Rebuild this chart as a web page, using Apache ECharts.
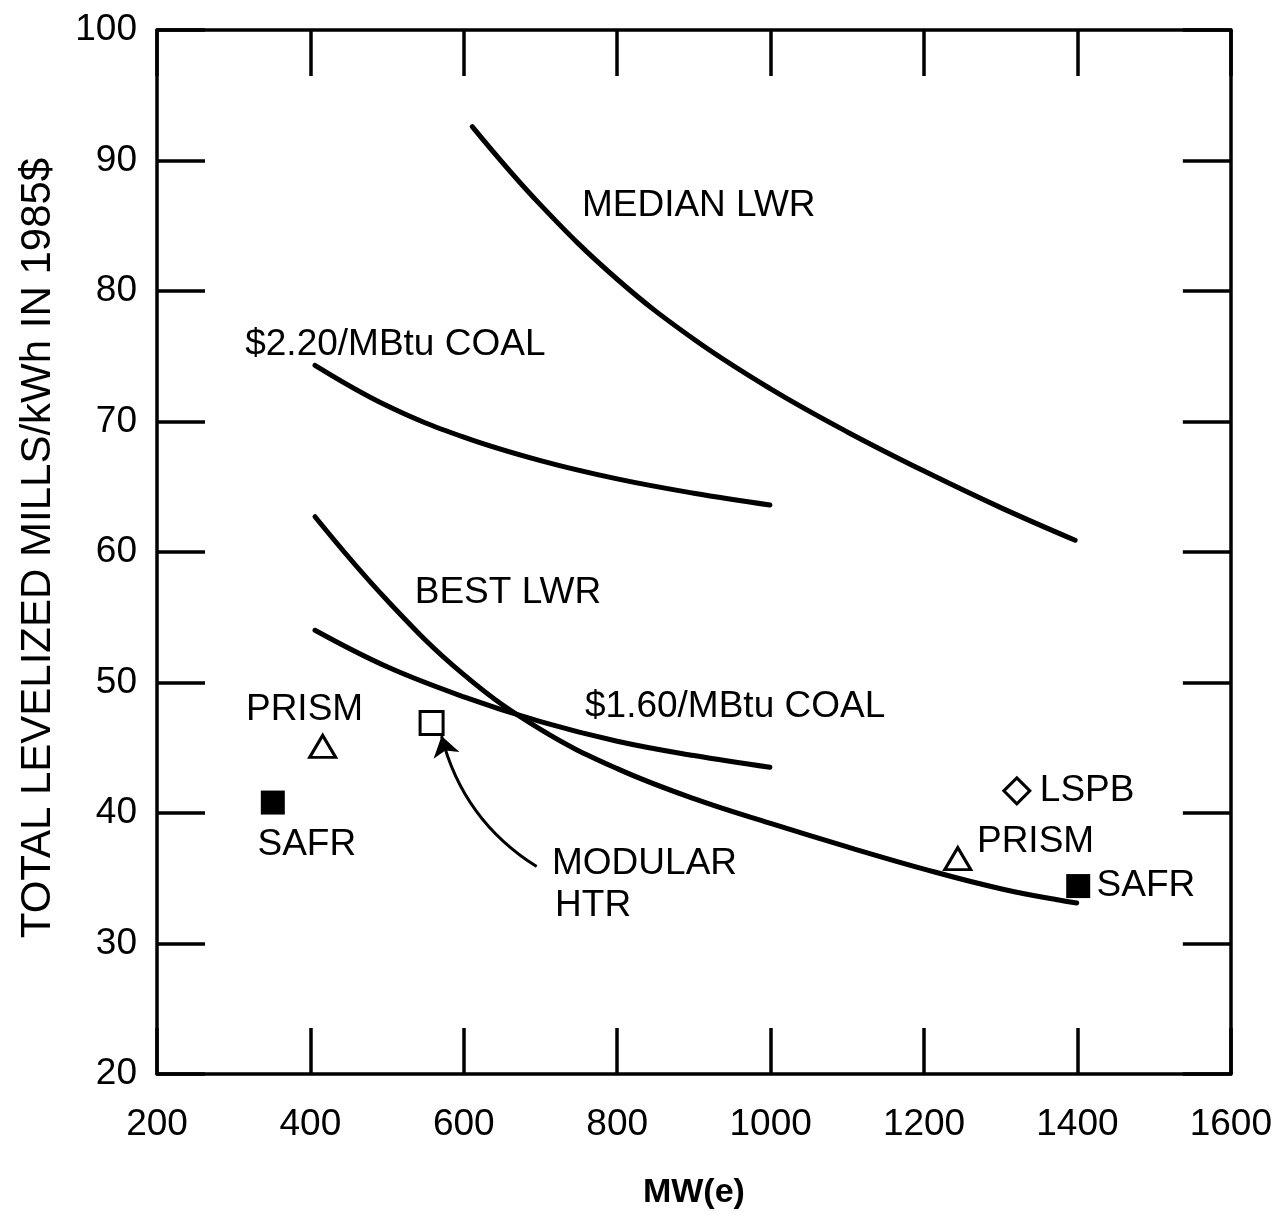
<!DOCTYPE html>
<html>
<head>
<meta charset="utf-8">
<title>Levelized cost vs plant size</title>
<script src="https://cdn.jsdelivr.net/npm/echarts@6/dist/echarts.min.js"></script>
<style>
  html, body { margin: 0; padding: 0; background: #fff; }
  #main { width: 1275px; height: 1215px; }
</style>
</head>
<body>
<div id="main"></div>
<script>
// axis ticks
var xTicks = [200, 400, 600, 800, 1000, 1200, 1400, 1600];
var yTicks = [20, 30, 40, 50, 60, 70, 80, 90, 100];

// curves: [MW(e), mills/kWh]
var medianLwr = [[611, 92.6], [700, 86.6], [800, 80.9], [900, 76.3], [1000, 72.5],
  [1100, 69.2], [1200, 66.2], [1300, 63.4], [1397, 60.9]];
var coal220 = [[406, 74.3], [500, 71.2], [600, 68.8], [700, 67.0], [800, 65.6],
  [900, 64.5], [999, 63.6]];
var bestLwr = [[406, 62.7], [500, 56.3], [600, 50.6], [700, 46.4], [800, 43.4], [900, 41.1],
  [1000, 39.2], [1100, 37.4], [1200, 35.7], [1300, 34.2], [1399, 33.1]];
var coal160 = [[406, 54.0], [500, 51.2], [600, 48.9], [700, 47.0], [800, 45.5],
  [900, 44.4], [999, 43.5]];

// design points
var prismPts = [[416, 45.1], [1244, 36.5]];
var safrPts = [[351, 40.8], [1401, 34.4]];
var htrPts = [[558, 46.9]];
var lspbPts = [[1321, 41.7]];

// annotations: [x, y, text] (text starts at x, centred on y)
var notes = [
  [754, 86.5, 'MEDIAN LWR'],
  [315, 75.9, '$2.20/MBtu COAL'],
  [536, 56.9, 'BEST LWR'],
  [758, 48.1, '$1.60/MBtu COAL'],
  [316, 47.9, 'PRISM'],
  [331, 37.6, 'SAFR'],
  [715, 36.1, 'MODULAR'],
  [719, 32.9, 'HTR'],
  [1351, 41.7, 'LSPB'],
  [1269, 37.8, 'PRISM'],
  [1425, 34.4, 'SAFR']
];
// arrow from MODULAR HTR label to its point
var htrArrow = [[695, 35.9], [571, 45.9]];

var FONT = '"Liberation Sans", Arial, sans-serif';
var lineStyle = { color: '#000', width: 3.5 };

function curve(name, data) {
  return {
    name: name, type: 'line', data: data, smooth: 0.4, showSymbol: false,
    lineStyle: { color: '#000', width: 5, cap: 'round' }, z: 3
  };
}

function plain(v) {
  return String(v);
}

var myChart = echarts.init(document.getElementById('main'));
var option = {
  animation: false,
  backgroundColor: '#fff',
  grid: { left: 157, right: 44, top: 30, bottom: 133 },
  xAxis: [
    {
      type: 'value', position: 'bottom', min: 200, max: 1600, interval: 200,
      name: 'MW(e)', nameLocation: 'middle', nameGap: 102,
      nameTextStyle: { fontFamily: FONT, fontSize: 34, fontWeight: 'bold', color: '#000' },
      axisLine: { show: true, lineStyle: lineStyle },
      axisTick: { show: true, inside: true, length: 46, lineStyle: lineStyle },
      axisLabel: { fontFamily: FONT, fontSize: 37, color: '#000', margin: 32, formatter: plain },
      splitLine: { show: false }
    },
    {
      type: 'value', position: 'top', min: 200, max: 1600, interval: 200,
      axisLine: { show: true, lineStyle: lineStyle },
      axisTick: { show: true, inside: true, length: 46, lineStyle: lineStyle },
      axisLabel: { show: false }, splitLine: { show: false }
    }
  ],
  yAxis: [
    {
      type: 'value', position: 'left', min: 20, max: 100, interval: 10,
      axisLine: { show: true, lineStyle: lineStyle },
      axisTick: { show: true, inside: true, length: 48, lineStyle: lineStyle },
      axisLabel: { fontFamily: FONT, fontSize: 37, color: '#000', margin: 20, formatter: plain },
      splitLine: { show: false }
    },
    {
      type: 'value', position: 'right', min: 20, max: 100, interval: 10,
      axisLine: { show: true, lineStyle: lineStyle },
      axisTick: { show: true, inside: true, length: 48, lineStyle: lineStyle },
      axisLabel: { show: false }, splitLine: { show: false }
    }
  ],
  graphic: [
    {
      type: 'text', x: 38, y: 548, rotation: Math.PI / 2,
      style: {
        text: 'TOTAL LEVELIZED MILLS/kWh IN 1985$', font: '42px ' + FONT,
        fill: '#000', align: 'center', verticalAlign: 'middle'
      }
    }
  ],
  series: [
    curve('MEDIAN LWR', medianLwr),
    curve('$2.20/MBtu COAL', coal220),
    curve('BEST LWR', bestLwr),
    curve('$1.60/MBtu COAL', coal160),
    {
      name: 'PRISM', type: 'scatter', data: prismPts, symbol: 'triangle', symbolSize: [26, 22],
      itemStyle: { color: '#fff', borderColor: '#000', borderWidth: 3, opacity: 1 }, z: 4
    },
    {
      name: 'SAFR', type: 'scatter', data: safrPts, symbol: 'rect', symbolSize: 24,
      itemStyle: { color: '#000', opacity: 1 }, z: 4
    },
    {
      name: 'MODULAR HTR', type: 'scatter', data: htrPts, symbol: 'rect', symbolSize: 23,
      itemStyle: { color: '#fff', borderColor: '#000', borderWidth: 3, opacity: 1 }, z: 4
    },
    {
      name: 'LSPB', type: 'scatter', data: lspbPts, symbol: 'diamond', symbolSize: [26, 26],
      itemStyle: { color: '#fff', borderColor: '#000', borderWidth: 3, opacity: 1 }, z: 4
    },
    {
      type: 'lines', coordinateSystem: 'cartesian2d', z: 4,
      symbol: ['none', 'arrow'], symbolSize: 20,
      lineStyle: { color: '#000', width: 3, curveness: 0.2, opacity: 1 },
      data: [{ coords: htrArrow }]
    },
    {
      type: 'scatter', symbolSize: 0, silent: true, z: 5,
      itemStyle: { opacity: 1 },
      data: notes.map(function (n) {
        return {
          value: [n[0], n[1]],
          label: {
            show: true, position: 'right', distance: 0, formatter: n[2],
            fontFamily: FONT, fontSize: 37, color: '#000'
          }
        };
      })
    }
  ]
};
myChart.setOption(option);
</script>
</body>
</html>
